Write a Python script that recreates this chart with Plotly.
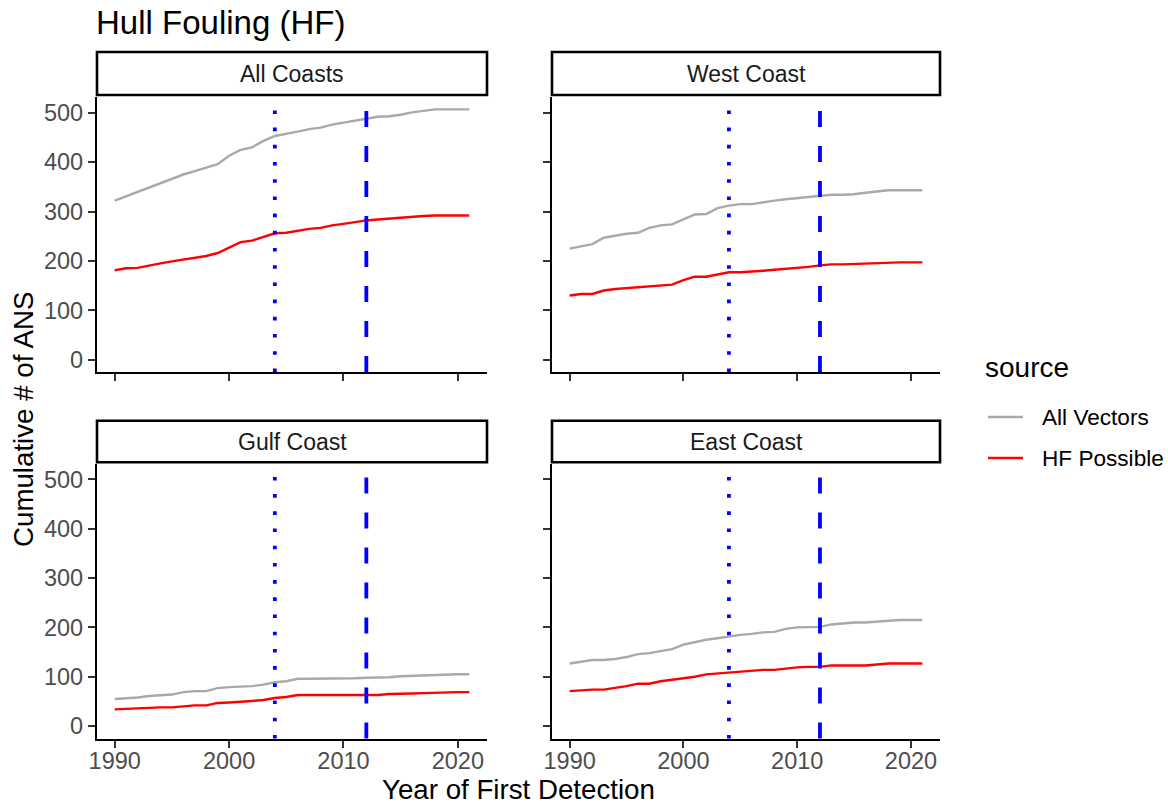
import plotly.graph_objects as go

W, H = 1168, 806

years = list(range(1990, 2022))
facets = ["All Coasts", "West Coast", "Gulf Coast", "East Coast"]
sources = ["All Vectors", "HF Possible"]

all_coasts_all = [322, 331, 340, 348, 357, 366, 375, 382, 389, 396,
                  413, 425, 430, 443, 453, 457, 462, 467, 470, 476,
                  480, 484, 488, 492, 493, 496, 501, 504, 507, 507,
                  507, 507]
all_coasts_hf = [181, 185, 186, 191, 195, 199, 203, 206, 210, 216,
                 227, 238, 241, 248, 256, 257, 261, 265, 267, 272,
                 275, 279, 282, 284, 286, 287, 289, 291, 292, 292,
                 292, 292]
west_all = [225, 229, 234, 247, 251, 255, 257, 267, 272, 274,
            284, 294, 295, 307, 312, 315, 315, 319, 322, 325,
            327, 330, 332, 334, 334, 335, 338, 340, 343, 343,
            343, 343]
west_hf = [130, 133, 133, 140, 143, 145, 146, 148, 150, 152,
           161, 168, 168, 172, 177, 177, 178, 180, 182, 184,
           185, 188, 191, 193, 193, 194, 195, 196, 197, 197,
           197, 197]
gulf_all = [55, 56, 58, 61, 63, 64, 69, 71, 71, 77,
            79, 80, 81, 84, 89, 91, 96, 96, 96, 97,
            97, 97, 98, 98, 99, 101, 102, 103, 104, 105,
            105, 105]
gulf_hf = [34, 35, 36, 38, 38, 38, 40, 42, 42, 47,
           48, 49, 51, 53, 57, 59, 63, 63, 63, 63,
           63, 63, 63, 63, 65, 65, 66, 67, 68, 69,
           69, 69]
east_all = [127, 131, 134, 134, 136, 140, 146, 148, 152, 156,
            165, 170, 175, 178, 182, 185, 187, 190, 191, 197,
            200, 201, 201, 206, 208, 210, 210, 212, 214, 215,
            215, 215]
east_hf = [71, 73, 74, 74, 77, 81, 86, 86, 91, 94,
           96, 100, 105, 107, 109, 111, 113, 114, 114, 117,
           119, 120, 120, 123, 123, 123, 123, 125, 127, 127,
           127, 127]

series = {
    "All Coasts": (all_coasts_all, all_coasts_hf),
    "West Coast": (west_all, west_hf),
    "Gulf Coast": (gulf_all, gulf_hf),
    "East Coast": (east_all, east_hf),
}

dotted_year = 2004
dashed_year = 2012

x_ticks = [1990, 2000, 2010, 2020]
y_ticks = [0, 100, 200, 300, 400, 500]

colors = {"All Vectors": "#A9A9A9", "HF Possible": "#FF0000"}
FONT = "Liberation Sans, Arial, sans-serif"

# panel pixel geometry (screen pixels)
cols = [(97, 487), (552, 940)]
rows = [(97, 372), (463.5, 738.5)]
strips = [(52, 95), (420.7, 462.3)]
legend_rows = [417, 458]


def px_x(p):
    return p / W


def px_y(p):
    return 1 - p / H


fig = go.Figure()

for i, facet in enumerate(facets):
    r, c = divmod(i, 2)
    suffix = "" if i == 0 else str(i + 1)
    xa, ya = "x" + suffix, "y" + suffix
    vals = series[facet]
    for s, v in zip(sources, vals):
        fig.add_trace(go.Scatter(
            x=years, y=v, mode="lines", name=s,
            line=dict(color=colors[s], width=2.4),
            xaxis=xa, yaxis=ya, legendgroup=s, showlegend=False,
            hoverinfo="skip",
        ))
    fig.add_shape(type="line", xref=xa, yref=ya + " domain",
                  x0=dotted_year, x1=dotted_year, y0=0, y1=1,
                  line=dict(color="#0000FF", width=3.8, dash="3.6px,13.6px"))
    fig.add_shape(type="line", xref=xa, yref=ya + " domain",
                  x0=dashed_year, x1=dashed_year, y0=0, y1=1,
                  line=dict(color="#0000FF", width=3.8, dash="16px,19px"))

    axis_common = dict(
        showline=True, linecolor="black", linewidth=2.4, mirror=False,
        showgrid=False, zeroline=False, ticks="outside", ticklen=7,
        tickwidth=2.2, tickcolor="#333333", automargin=False,
        tickfont=dict(family=FONT, size=23.5, color="#4D4D4D"),
    )
    xkey = "xaxis" + suffix
    ykey = "yaxis" + suffix
    fig.update_layout(**{
        xkey: dict(axis_common, domain=[px_x(cols[c][0]), px_x(cols[c][1])],
                   range=[1988.45, 2022.55], tickvals=x_ticks,
                   showticklabels=(r == 1), anchor=ya, ticklabelstandoff=-7),
        ykey: dict(axis_common, domain=[px_y(rows[r][1]), px_y(rows[r][0])],
                   range=[-25, 532], tickvals=y_ticks,
                   showticklabels=(c == 0), anchor=xa, ticklabelstandoff=0),
    })

    fig.add_shape(type="rect", xref="paper", yref="paper",
                  x0=px_x(cols[c][0]), x1=px_x(cols[c][1]),
                  y0=px_y(strips[r][1]), y1=px_y(strips[r][0]),
                  line=dict(color="black", width=2.6), fillcolor="white",
                  layer="below")
    fig.add_annotation(xref="paper", yref="paper",
                       x=px_x((cols[c][0] + cols[c][1]) / 2),
                       y=px_y((strips[r][0] + strips[r][1]) / 2),
                       text=facet, showarrow=False,
                       font=dict(family=FONT, size=23, color="#1A1A1A"),
                       xanchor="center", yanchor="middle")

fig.add_annotation(xref="paper", yref="paper", x=px_x(94), y=px_y(22),
                   text="Hull Fouling (HF)", showarrow=False,
                   font=dict(family=FONT, size=33, color="black"),
                   xanchor="left", yanchor="middle")
fig.add_annotation(xref="paper", yref="paper", x=px_x(518.5), y=px_y(789),
                   text="Year of First Detection", showarrow=False,
                   font=dict(family=FONT, size=27.7, color="black"),
                   xanchor="center", yanchor="middle")
fig.add_annotation(xref="paper", yref="paper", x=px_x(23), y=px_y(420),
                   text="Cumulative # of ANS", showarrow=False, textangle=-90,
                   font=dict(family=FONT, size=27.7, color="black"),
                   xanchor="center", yanchor="middle")

# legend ("source") drawn as keys + labels
fig.add_annotation(xref="paper", yref="paper", x=px_x(983), y=px_y(367),
                   text="source", showarrow=False,
                   font=dict(family=FONT, size=28, color="black"),
                   xanchor="left", yanchor="middle")
for s, ly in zip(sources, legend_rows):
    fig.add_shape(type="line", xref="paper", yref="paper",
                  x0=px_x(988), x1=px_x(1023), y0=px_y(ly), y1=px_y(ly),
                  line=dict(color=colors[s], width=2.4))
    fig.add_annotation(xref="paper", yref="paper", x=px_x(1040), y=px_y(ly),
                       text=s, showarrow=False,
                       font=dict(family=FONT, size=22.6, color="black"),
                       xanchor="left", yanchor="middle")

fig.update_layout(
    width=W, height=H,
    margin=dict(l=0, r=0, t=0, b=0),
    paper_bgcolor="white", plot_bgcolor="white",
    showlegend=False,
)

fig.write_html(
    "out.html",
    config={"displayModeBar": False},
    post_script="document.body.style.margin='0';document.body.style.overflow='hidden';",
)
